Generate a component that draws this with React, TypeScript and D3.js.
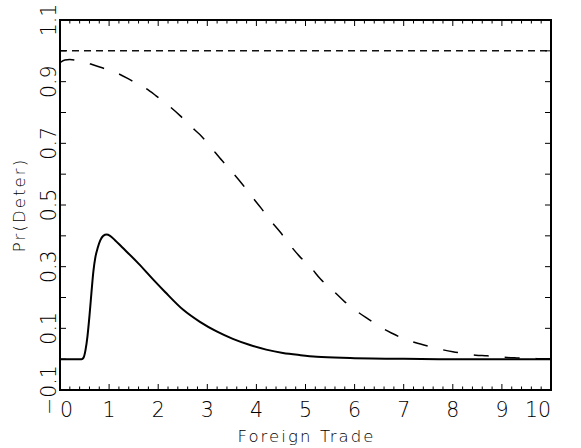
import React from 'react';
import * as d3 from 'd3';

// Solid curve
const solidX = [0, 0.44, 0.48, 0.52, 0.56, 0.6, 0.64, 0.68, 0.72, 0.77, 0.82, 0.88, 0.95, 1.02, 1.12, 1.26, 1.6, 1.9, 2.14, 2.51, 2.85, 3.19, 3.52, 3.87, 4.2, 4.54, 4.9, 5.23, 5.91, 7.0, 8.0, 10.0];
const solidY = [0, 0, 0.005, 0.03, 0.075, 0.14, 0.215, 0.285, 0.33, 0.362, 0.385, 0.4, 0.404, 0.4, 0.386, 0.364, 0.31, 0.258, 0.218, 0.16, 0.121, 0.09, 0.066, 0.046, 0.031, 0.02, 0.013, 0.008, 0.004, 0.001, 0, 0];

// Long-dashed curve
const dashX = [0, 0.1, 0.2, 0.35, 0.5, 0.7, 0.95, 1.2, 1.45, 1.7, 1.95, 2.2, 2.45, 2.65, 2.9, 3.1, 3.3, 3.52, 3.71, 3.9, 4.1, 4.28, 4.48, 4.67, 4.87, 5.11, 5.31, 5.57, 5.8, 6.04, 6.28, 6.52, 6.75, 7.0, 7.23, 7.5, 7.75, 8.0, 8.2, 8.47, 8.7, 8.95, 9.3, 9.7, 10.0];
const dashY = [0.962, 0.97, 0.972, 0.969, 0.964, 0.953, 0.94, 0.925, 0.904, 0.883, 0.855, 0.824, 0.789, 0.757, 0.72, 0.682, 0.644, 0.604, 0.568, 0.529, 0.489, 0.451, 0.413, 0.373, 0.335, 0.297, 0.259, 0.221, 0.186, 0.156, 0.13, 0.105, 0.085, 0.066, 0.054, 0.042, 0.032, 0.024, 0.019, 0.013, 0.011, 0.007, 0.004, 0.002, 0.001];

// Short-dashed reference line
const refLineX = [0, 10];
const refLineY = [1.0, 1.0];

const xTickValues = [0, 1, 2, 3, 4, 5, 6, 7, 8, 9, 10];
const xTickLabels = ['0', '1', '2', '3', '4', '5', '6', '7', '8', '9', '10'];
const yTickValues = [-0.1, 0.1, 0.3, 0.5, 0.7, 0.9, 1.1];
const yTickLabels = ['\u22120.1', '0.1', '0.3', '0.5', '0.7', '0.9', '1.1'];
const xDomain = [0, 10];
const yDomain = [-0.1, 1.1];
const xTitle = 'Foreign Trade';
const yTitle = 'Pr(Deter)';

export default function App() {
  const W = 581, H = 448;
  const L = 60, R = 551, T = 20, B = 390;
  const x = d3.scaleLinear().domain(xDomain).range([L, R]);
  const y = d3.scaleLinear().domain(yDomain).range([B, T]);
  const line = d3.line<[number, number]>().x(d => x(d[0])).y(d => y(d[1])).curve(d3.curveMonotoneX);
  const straight = d3.line<[number, number]>().x(d => x(d[0])).y(d => y(d[1]));

  const solidPts = solidX.map((v, i) => [v, solidY[i]] as [number, number]);
  const dashPts = dashX.map((v, i) => [v, dashY[i]] as [number, number]);
  const refPts = refLineX.map((v, i) => [v, refLineY[i]] as [number, number]);

  const xMinor = d3.range(0, 10.001, 0.2).filter(v => Math.abs(v - Math.round(v)) > 1e-6);
  const yAll = d3.range(-0.1, 1.1001, 0.1);
  const font = "'DejaVu Sans', sans-serif";

  return (
    <svg width={W} height={H} style={{ position: 'absolute', left: 0, top: 0, background: '#fff' }}>
      <rect x={0} y={0} width={W} height={H} fill="#fff" />
      <defs>
        <clipPath id="plotclip"><rect x={L} y={T} width={R - L} height={B - T} /></clipPath>
      </defs>
      <g clipPath="url(#plotclip)">
        <path d={straight(refPts) || ''} fill="none" stroke="#111" strokeWidth={1.5} strokeDasharray="7 5" />
        <path d={line(dashPts) || ''} fill="none" stroke="#000" strokeWidth={1.5} strokeDasharray="15 16" />
        <path d={line(solidPts) || ''} fill="none" stroke="#000" strokeWidth={2} />
      </g>
      {xTickValues.map(v => (
        <g key={'xt' + v}>
          <line x1={x(v)} x2={x(v)} y1={B} y2={B - 6} stroke="#000" strokeWidth={1} />
          <line x1={x(v)} x2={x(v)} y1={T} y2={T + 6} stroke="#000" strokeWidth={1} />
        </g>
      ))}
      {xMinor.map(v => (
        <g key={'xm' + v}>
          <line x1={x(v)} x2={x(v)} y1={B} y2={B - 3.5} stroke="#000" strokeWidth={1} />
          <line x1={x(v)} x2={x(v)} y1={T} y2={T + 3.5} stroke="#000" strokeWidth={1} />
        </g>
      ))}
      {yAll.map(v => (
        <g key={'yt' + v.toFixed(2)}>
          <line x1={L} x2={L + 6} y1={y(v)} y2={y(v)} stroke="#000" strokeWidth={1} />
          <line x1={R} x2={R - 6} y1={y(v)} y2={y(v)} stroke="#000" strokeWidth={1} />
        </g>
      ))}
      <rect x={L} y={T} width={R - L} height={B - T} fill="none" stroke="#000" strokeWidth={2} />
      {xTickValues.map((v, i) => (
        <text key={'xl' + v} x={x(v)} y={416.5} fontFamily={font} fontWeight={200} fontSize={20.5}
          textAnchor={i === 0 ? 'start' : i === xTickValues.length - 1 ? 'end' : 'middle'} fill="#000">
          {xTickLabels[i]}
        </text>
      ))}
      {yTickValues.map((v, i) => (
        <text key={'yl' + i} transform={`translate(55.5,${y(v)}) rotate(-90)`} fontFamily={font} fontWeight={200}
          fontSize={20.5} textAnchor="middle" fill="#000">
          {yTickLabels[i]}
        </text>
      ))}
      <text x={(L + R) / 2 + 1} y={442} fontFamily={font} fontWeight={200} fontSize={16.5} letterSpacing={2.1}
        textAnchor="middle" fill="#000">{xTitle}</text>
      <text transform={`translate(25,${(T + B) / 2}) rotate(-90)`} fontFamily={font} fontWeight={200} fontSize={16.5}
        letterSpacing={2.1} textAnchor="middle" fill="#000">{yTitle}</text>
    </svg>
  );
}
